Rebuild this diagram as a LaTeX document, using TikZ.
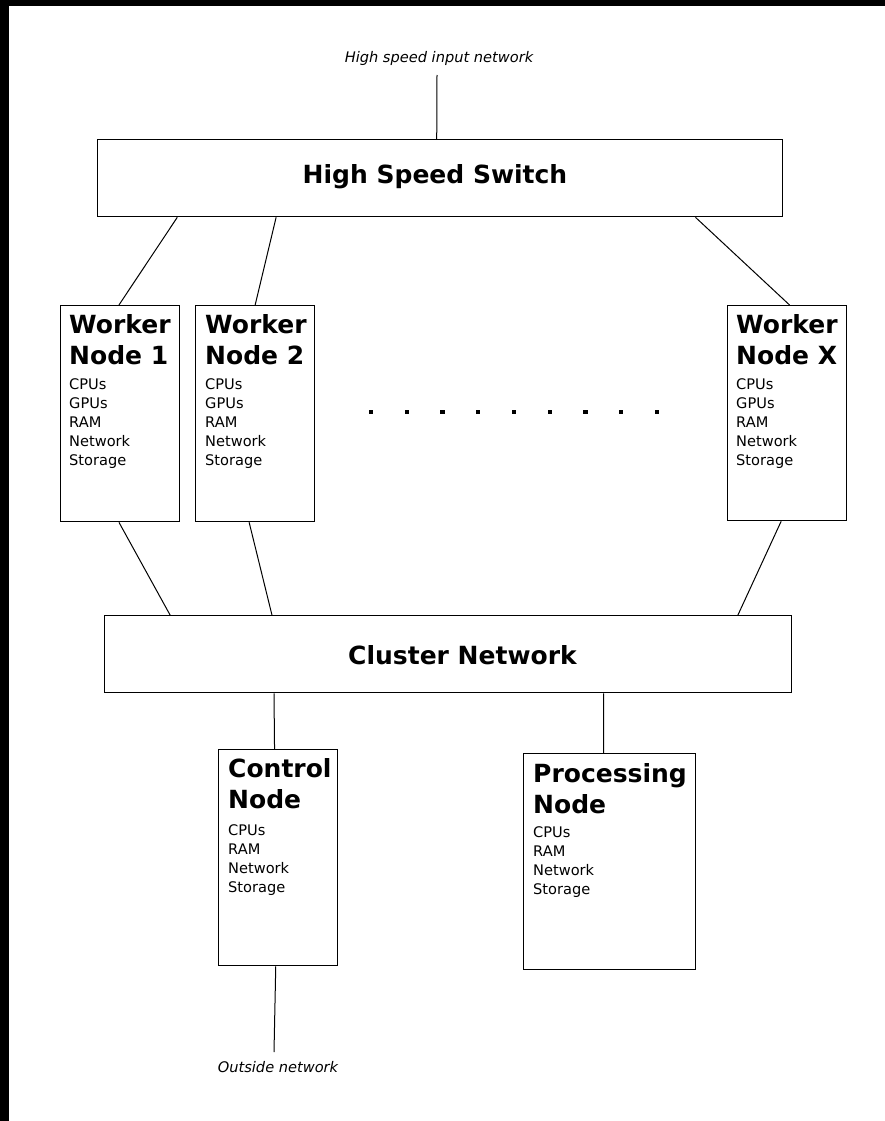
\documentclass[tikz,border=0pt]{standalone}
\usepackage{fontspec}
\setmainfont{DejaVu Sans}
\usetikzlibrary{calc}

\tikzset{
  box/.style={draw=black, line width=1.3pt, fill=white, inner sep=0pt},
  wire/.style={draw=black, line width=1pt},
  % multi-line text nodes: the base anchor sits on the last line
  title/.style={anchor=base west, inner sep=0pt, align=left,
    font=\bfseries\fontsize{25}{31}\selectfont},
  spec/.style={anchor=base west, inner sep=0pt, align=left,
    font=\fontsize{14.6}{18.8}\selectfont},
  bigtitle/.style={inner sep=0pt, font=\bfseries\fontsize{25}{30}\selectfont},
  note/.style={inner sep=0pt, font=\itshape\fontsize{14.6}{18}\selectfont},
  dot/.style={fill=black, draw=none, minimum size=4.2pt, inner sep=0pt}
}

\begin{document}
\begin{tikzpicture}[x=1pt, y=-1pt]
  % frame: dark border strips and white sheet
  \fill[black] (0,0) rectangle (885,1121);
  \fill[white] (9,6) rectangle (885,1121);
  \useasboundingbox (0,0) rectangle (885,1121);

  % switch and cluster network bars
  \node[box, minimum width=685pt, minimum height=77pt, anchor=north west] (sw) at (97,139) {};
  \node[bigtitle] (swt) at (435,177) {High Speed Switch};
  \node[box, minimum width=687pt, minimum height=77pt, anchor=north west] (cn) at (104,615) {};
  \node[bigtitle] (cnt) at (462.5,655) {Cluster Network};

  % worker nodes
  \node[box, minimum width=119pt, minimum height=216pt, anchor=north west] (w1) at (60,305) {};
  \node[title] (w1t) at (69,364) {Worker\\Node 1};
  \node[spec] (w1s) at (69,465) {CPUs\\GPUs\\RAM\\Network\\Storage};

  \node[box, minimum width=119pt, minimum height=216pt, anchor=north west] (w2) at (195,305) {};
  \node[title] (w2t) at (205,364) {Worker\\Node 2};
  \node[spec] (w2s) at (205,465) {CPUs\\GPUs\\RAM\\Network\\Storage};

  \node[box, minimum width=119pt, minimum height=215pt, anchor=north west] (wx) at (727,305) {};
  \node[title] (wxt) at (736,364) {Worker\\Node X};
  \node[spec] (wxs) at (736,465) {CPUs\\GPUs\\RAM\\Network\\Storage};

  % ellipsis between the workers
  \foreach \i in {0,...,8} {
    \node[dot] (d\i) at ({371+35.75*\i},412) {};
  }

  % control and processing nodes
  \node[box, minimum width=119pt, minimum height=216pt, anchor=north west] (ctl) at (218,749) {};
  \node[title] (ctlt) at (228,808) {Control\\Node};
  \node[spec] (ctls) at (228,892) {CPUs\\RAM\\Network\\Storage};

  \node[box, minimum width=172pt, minimum height=216pt, anchor=north west] (prc) at (523,753) {};
  \node[title] (prct) at (533,813) {Processing\\Node};
  \node[spec] (prcs) at (533,894) {CPUs\\RAM\\Network\\Storage};

  % external links
  \node[note] (inl) at (439,58) {High speed input network};
  \coordinate (intop) at (437,75);
  \draw[wire] (intop) -- ($(sw.north west)!0.495!(sw.north east)$);

  \node[note] (outl) at (278,1067) {Outside network};
  \coordinate (outbot) at (274,1052);
  \draw[wire] ($(ctl.south west)!0.48!(ctl.south east)$) -- (outbot);

  % switch to workers
  \draw[wire] ($(sw.south west)!0.117!(sw.south east)$) -- ($(w1.north west)!0.49!(w1.north east)$);
  \draw[wire] ($(sw.south west)!0.261!(sw.south east)$) -- ($(w2.north west)!0.50!(w2.north east)$);
  \draw[wire] ($(sw.south west)!0.872!(sw.south east)$) -- ($(wx.north west)!0.52!(wx.north east)$);

  % workers to cluster network
  \draw[wire] ($(w1.south west)!0.49!(w1.south east)$) -- ($(cn.north west)!0.096!(cn.north east)$);
  \draw[wire] ($(w2.south west)!0.45!(w2.south east)$) -- ($(cn.north west)!0.244!(cn.north east)$);
  \draw[wire] ($(wx.south west)!0.45!(wx.south east)$) -- ($(cn.north west)!0.921!(cn.north east)$);

  % cluster network to control and processing
  \draw[wire] ($(cn.south west)!0.247!(cn.south east)$) -- ($(ctl.north west)!0.47!(ctl.north east)$);
  \draw[wire] ($(cn.south west)!0.726!(cn.south east)$) -- ($(prc.north west)!0.465!(prc.north east)$);
\end{tikzpicture}
\end{document}
